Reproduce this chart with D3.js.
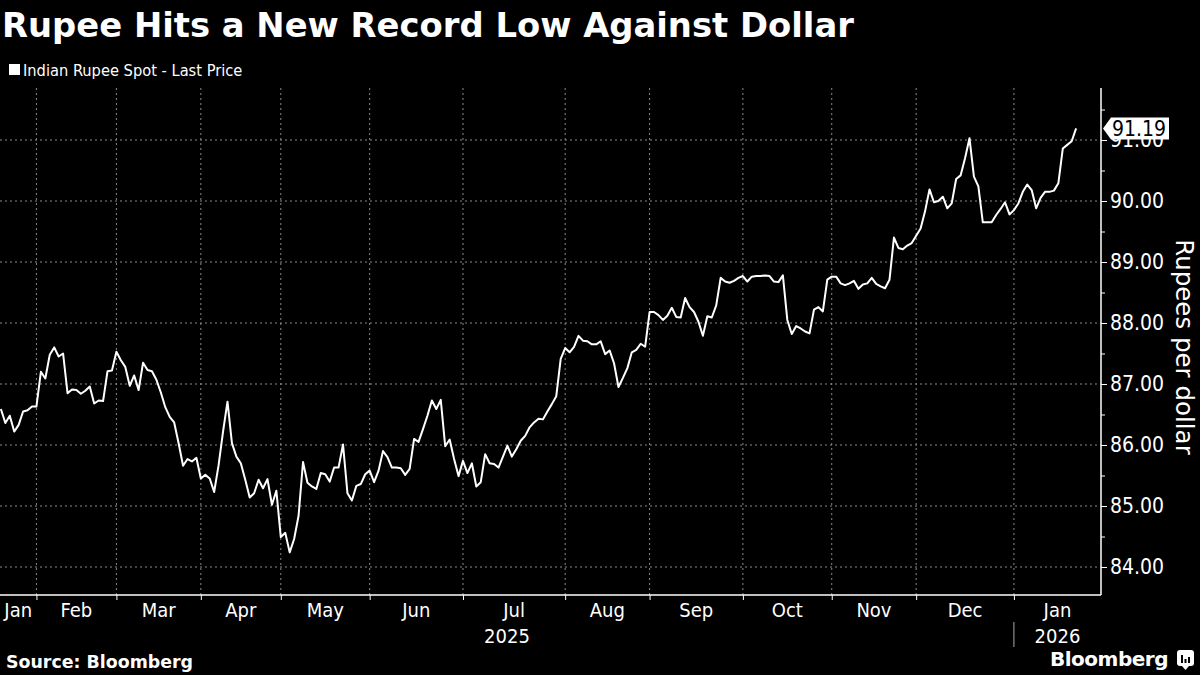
<!DOCTYPE html>
<html>
<head>
<meta charset="utf-8">
<script src="https://cdn.jsdelivr.net/npm/d3@7"></script>
<style>
body { margin: 0; background: #000; }
svg { display: block; }
.cond { font-family: "DejaVu Sans Condensed", "DejaVu Sans", sans-serif; font-stretch: condensed; }
</style>
</head>
<body>
<script>
// Indian Rupee Spot - Last Price, one value per trading day (Jan 2025 - Jan 2026)
var values = [
  86.59, 86.36, 86.48, 86.22, 86.33, 86.55, 86.57, 86.63, 86.63, 87.20,
  87.09, 87.48, 87.60, 87.45, 87.50, 86.85, 86.91, 86.90, 86.84, 86.89,
  86.96, 86.68, 86.73, 86.72, 87.21, 87.22, 87.53, 87.39, 87.28, 86.97,
  87.14, 86.90, 87.35, 87.23, 87.21, 87.07, 86.86, 86.62, 86.46, 86.37,
  86.03, 85.66, 85.77, 85.73, 85.79, 85.45, 85.51, 85.45, 85.23, 85.67,
  86.22, 86.71, 86.03, 85.81, 85.70, 85.43, 85.14, 85.21, 85.43, 85.29,
  85.44, 85.02, 85.25, 84.49, 84.56, 84.24, 84.46, 84.84, 85.72, 85.38,
  85.32, 85.28, 85.54, 85.52, 85.40, 85.63, 85.63, 86.01, 85.21, 85.09,
  85.33, 85.36, 85.52, 85.58, 85.39, 85.58, 85.90, 85.80, 85.63, 85.63,
  85.62, 85.51, 85.61, 86.10, 86.05, 86.26, 86.48, 86.73, 86.59, 86.74,
  85.98, 86.09, 85.77, 85.49, 85.74, 85.54, 85.70, 85.32, 85.39, 85.85,
  85.70, 85.69, 85.63, 85.81, 85.99, 85.81, 85.93, 86.07, 86.15, 86.29,
  86.37, 86.43, 86.42, 86.55, 86.67, 86.80, 87.41, 87.59, 87.52, 87.61,
  87.79, 87.71, 87.70, 87.65, 87.65, 87.70, 87.49, 87.55, 87.34, 86.95,
  87.10, 87.26, 87.52, 87.56, 87.66, 87.61, 88.18, 88.18, 88.13, 88.05,
  88.12, 88.25, 88.10, 88.09, 88.41, 88.26, 88.18, 88.02, 87.79, 88.11,
  88.09, 88.29, 88.74, 88.68, 88.66, 88.69, 88.74, 88.77, 88.68, 88.76,
  88.77, 88.77, 88.78, 88.77, 88.68, 88.67, 88.78, 88.05, 87.82, 87.95,
  87.91, 87.86, 87.83, 88.22, 88.26, 88.19, 88.71, 88.76, 88.76, 88.65,
  88.62, 88.65, 88.69, 88.56, 88.63, 88.65, 88.74, 88.64, 88.60, 88.57,
  88.71, 89.40, 89.23, 89.21, 89.27, 89.31, 89.43, 89.55, 89.83, 90.19,
  89.98, 90.00, 90.07, 89.88, 89.96, 90.36, 90.42, 90.70, 91.03, 90.40,
  90.24, 89.65, 89.65, 89.65, 89.77, 89.87, 89.98, 89.78, 89.85, 89.96,
  90.15, 90.27, 90.18, 89.88, 90.05, 90.15, 90.15, 90.17, 90.29, 90.86,
  90.92, 90.98, 91.19
];
var monthLabels = ["Jan", "Feb", "Mar", "Apr", "May", "Jun", "Jul", "Aug", "Sep", "Oct", "Nov", "Dec", "Jan"];
var monthStarts = [8, 26, 45, 63, 83, 104, 127, 146, 167, 187, 206, 228]; // index of first trading day
var yearLabels = ["2025", "2026"];
var yTicks = [84, 85, 86, 87, 88, 89, 90, 91];
var yMinor = [84.5, 85.5, 86.5, 87.5, 88.5, 89.5, 90.5, 91.5];

var width = 1200, height = 675;
var plotLeft = 0, plotRight = 1101, plotTop = 88, plotBottom = 595;

var svg = d3.select("body").append("svg")
    .attr("width", width)
    .attr("height", height)
    .style("background", "#000");

var x = d3.scaleLinear()
    .domain([-0.2, 247.6])
    .range([plotLeft, plotRight]);

var y = d3.scaleLinear()
    .domain([84, 91])
    .range([567, 140]);

// title + legend
svg.append("text")
    .attr("x", 2).attr("y", 37)
    .attr("fill", "#fff")
    .style("font-family", "'DejaVu Sans', sans-serif")
    .style("font-weight", "bold")
    .style("font-size", "33.8px")
    .text("Rupee Hits a New Record Low Against Dollar");

svg.append("rect")
    .attr("x", 9).attr("y", 64).attr("width", 11).attr("height", 11)
    .attr("fill", "#fff");
svg.append("text")
    .attr("class", "cond")
    .attr("x", 23).attr("y", 76)
    .attr("fill", "#fff")
    .style("font-size", "16.3px")
    .text("Indian Rupee Spot - Last Price");

// grid
svg.append("g").selectAll("line")
    .data(yTicks)
    .enter().append("line")
    .attr("x1", plotLeft).attr("x2", plotRight)
    .attr("y1", function(d) { return y(d); })
    .attr("y2", function(d) { return y(d); })
    .attr("stroke", "#8a8a8a")
    .attr("stroke-width", 1)
    .attr("stroke-dasharray", "2,3");

svg.append("g").selectAll("line")
    .data(monthStarts)
    .enter().append("line")
    .attr("x1", function(d) { return x(d); })
    .attr("x2", function(d) { return x(d); })
    .attr("y1", plotTop).attr("y2", plotBottom)
    .attr("stroke", "#8a8a8a")
    .attr("stroke-width", 1)
    .attr("stroke-dasharray", "2,3");

// line
var line = d3.line()
    .x(function(d, i) { return x(i); })
    .y(function(d) { return y(d); });

svg.append("path")
    .datum(values)
    .attr("d", line)
    .attr("fill", "none")
    .attr("stroke", "#fff")
    .attr("stroke-width", 2)
    .attr("stroke-linejoin", "round");

// bottom axis
var xAxis = svg.append("g")
    .attr("transform", "translate(0," + plotBottom + ")")
    .call(d3.axisBottom(x).tickValues(monthStarts).tickSize(5).tickFormat(""));
xAxis.select(".domain").remove();
xAxis.selectAll("line").attr("stroke", "#fff");
svg.append("line")
    .attr("x1", plotLeft).attr("x2", plotRight)
    .attr("y1", plotBottom).attr("y2", plotBottom)
    .attr("stroke", "#fff").attr("stroke-width", 1.5);

var bounds = [x.domain()[0]].concat(monthStarts).concat([x.domain()[1]]);
svg.append("g").selectAll("text")
    .data(monthLabels)
    .enter().append("text")
    .attr("class", "cond")
    .attr("x", function(d, i) { return (x(bounds[i]) + x(bounds[i + 1])) / 2; })
    .attr("y", 617)
    .attr("text-anchor", "middle")
    .attr("fill", "#fff")
    .style("font-size", "20px")
    .text(function(d) { return d; });

var yearBounds = [x.domain()[0], monthStarts[monthStarts.length - 1], x.domain()[1]];
svg.append("g").selectAll("text")
    .data(yearLabels)
    .enter().append("text")
    .attr("class", "cond")
    .attr("x", function(d, i) { return (x(yearBounds[i]) + x(yearBounds[i + 1])) / 2; })
    .attr("y", 643)
    .attr("text-anchor", "middle")
    .attr("fill", "#fff")
    .style("font-size", "20px")
    .text(function(d) { return d; });

svg.append("line")
    .attr("x1", x(yearBounds[1])).attr("x2", x(yearBounds[1]))
    .attr("y1", 622).attr("y2", 647)
    .attr("stroke", "#aaa").attr("stroke-width", 1);

// right axis
svg.append("line")
    .attr("x1", plotRight).attr("x2", plotRight)
    .attr("y1", plotTop).attr("y2", plotBottom)
    .attr("stroke", "#fff").attr("stroke-width", 1.5);

var yAxisMinor = svg.append("g")
    .attr("transform", "translate(" + plotRight + ",0)")
    .call(d3.axisRight(y).tickValues(yMinor).tickSize(4).tickFormat(""));
yAxisMinor.select(".domain").remove();
yAxisMinor.selectAll("line").attr("stroke", "#fff");

// the top label sits partly under the last-value tag, as in the original
var yAxis = svg.append("g")
    .attr("transform", "translate(" + plotRight + ",0)")
    .call(d3.axisRight(y).tickValues(yTicks).tickSize(6).tickPadding(3).tickFormat(d3.format(".2f")));
yAxis.select(".domain").remove();
yAxis.selectAll("line").attr("stroke", "#fff");
yAxis.selectAll("text")
    .attr("class", "cond")
    .attr("fill", "#fff")
    .style("font-size", "21px");

svg.append("text")
    .attr("transform", "translate(1176,347) rotate(90)")
    .attr("text-anchor", "middle")
    .attr("fill", "#fff")
    .style("font-family", "'DejaVu Sans', sans-serif")
    .style("font-size", "24.5px")
    .text("Rupees per dollar");

// last value tag
var last = values[values.length - 1];
var ly = y(last);
svg.append("path")
    .attr("d", "M" + (plotRight + 2) + "," + ly +
               "L" + (plotRight + 10) + "," + (ly - 11) +
               "L1169," + (ly - 11) +
               "L1169," + (ly + 11) +
               "L" + (plotRight + 10) + "," + (ly + 11) + "Z")
    .attr("fill", "#fff");
svg.append("text")
    .attr("class", "cond")
    .attr("x", 1112).attr("y", ly)
    .attr("dy", "0.36em")
    .attr("fill", "#000")
    .style("font-size", "21px")
    .text(d3.format(".2f")(last));

// footer
svg.append("text")
    .attr("x", 6).attr("y", 668)
    .attr("fill", "#fff")
    .style("font-family", "'DejaVu Sans', sans-serif")
    .style("font-weight", "bold")
    .style("font-size", "17.4px")
    .text("Source: Bloomberg");

svg.append("text")
    .attr("x", 1168).attr("y", 666)
    .attr("text-anchor", "end")
    .attr("fill", "#fff")
    .style("font-family", "'DejaVu Sans', sans-serif")
    .style("font-weight", "bold")
    .style("font-size", "20px")
    .style("letter-spacing", "-0.5px")
    .text("Bloomberg");

var logo = svg.append("g").attr("transform", "translate(1177,650)");
logo.append("rect")
    .attr("width", 17).attr("height", 16).attr("rx", 3)
    .attr("fill", "#fff");
logo.append("path")
    .attr("d", "M5,16 L8.5,20 L12,16 Z")
    .attr("fill", "#fff");
logo.selectAll("rect.bar")
    .data([[4, 8], [7.5, 4], [11, 6]])
    .enter().append("rect")
    .attr("class", "bar")
    .attr("x", function(d) { return d[0]; })
    .attr("y", function(d) { return 13 - d[1]; })
    .attr("width", 2)
    .attr("height", function(d) { return d[1]; })
    .attr("fill", "#000");
</script>
</body>
</html>
